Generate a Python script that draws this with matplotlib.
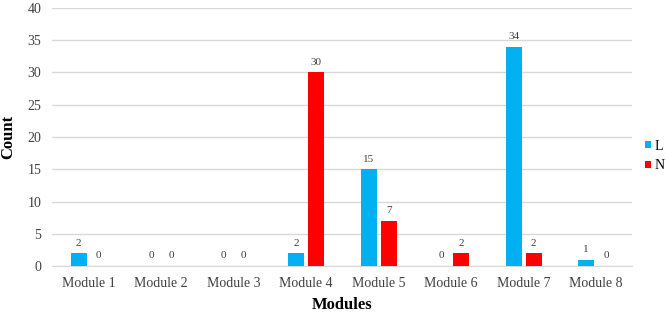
import numpy as np
import matplotlib
matplotlib.use("Agg")
import matplotlib.pyplot as plt

# data
modules = ["Module 1", "Module 2", "Module 3", "Module 4",
           "Module 5", "Module 6", "Module 7", "Module 8"]
l_counts = [2, 0, 0, 2, 15, 0, 34, 1]
n_counts = [0, 0, 0, 30, 7, 2, 2, 0]

plt.rcParams['font.family'] = ['Liberation Serif', 'DejaVu Serif']

fig = plt.figure(figsize=(6.66, 3.12), dpi=100)
ax = fig.add_axes([0.0787, 0.1474, 0.8708, 0.827])

x = np.arange(len(modules))
w = 0.22
off = 0.138
bars_l = ax.bar(x - off, l_counts, w, color='#00B0F0', label='L', zorder=3)
bars_n = ax.bar(x + off, n_counts, w, color='#FF0000', label='N', zorder=3)

# value labels above each bar
for bars in (bars_l, bars_n):
    for b in bars:
        ax.annotate(str(int(b.get_height())),
                    (b.get_x() + b.get_width() / 2, b.get_height()),
                    xytext=(0, 4), textcoords='offset points',
                    ha='center', va='bottom', fontsize=8, color='#404040')

ax.set_xlim(-0.5, len(modules) - 0.5)
ax.set_ylim(0, 40)
ax.set_yticks(range(0, 41, 5))
ax.set_xticks(x)
ax.set_xticklabels(modules)
ax.tick_params(axis='both', length=0, labelsize=10, colors='#404040')
ax.tick_params(axis='x', pad=8)
ax.tick_params(axis='y', pad=8)
ax.yaxis.grid(True, color='#D9D9D9', linewidth=1, zorder=0)
for s in ['top', 'right', 'left']:
    ax.spines[s].set_visible(False)
ax.spines['bottom'].set_color('#D9D9D9')

ax.set_xlabel('Modules', fontsize=12, fontweight='bold', labelpad=5)
ax.set_ylabel('Count', fontsize=12, fontweight='bold', labelpad=8)

leg = ax.legend(loc='center left', bbox_to_anchor=(0.968, 0.5),
                bbox_transform=fig.transFigure, frameon=False, fontsize=10,
                handlelength=0.45, handleheight=0.45, handletextpad=0.25,
                labelspacing=0.5, borderaxespad=0, borderpad=0)

fig.savefig('out.png', dpi=100)
